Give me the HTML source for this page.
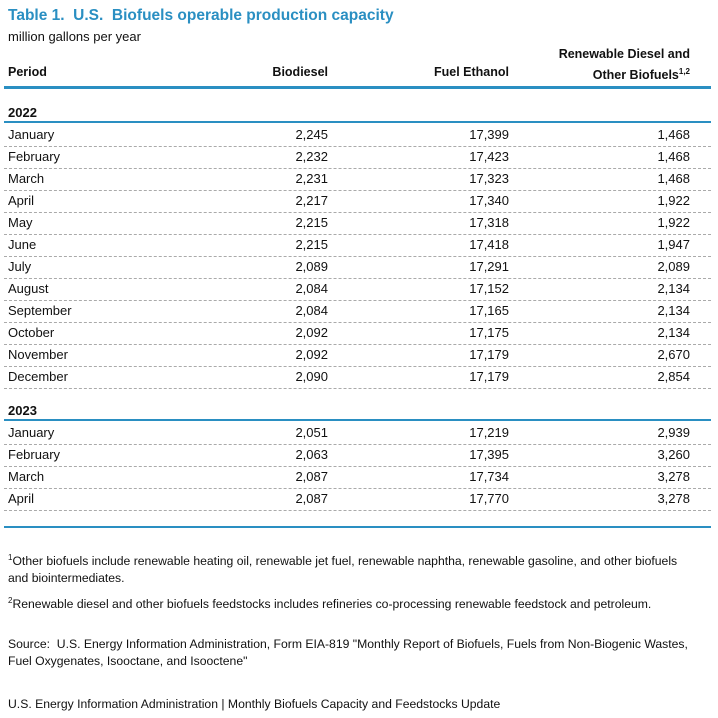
<!DOCTYPE html>
<html><head><meta charset="utf-8"><style>
body{margin:0;width:718px;height:718px;background:#fff;font-family:"Liberation Sans",sans-serif;color:#111;position:relative;overflow:hidden}
.a{position:absolute;white-space:nowrap;font-size:13px;line-height:15px}
.f{font-size:12.2px}
.r{text-align:right}
.b{font-weight:bold}
.thick{position:absolute;left:4px;width:707px;background:#2a8fc2}
.dash{position:absolute;left:4px;width:707px;border-top:1px dashed #aaa;height:0}
sup{font-size:8px;line-height:0}
</style></head><body>
<div class="a b" style="left:8px;top:7px;font-size:15.5px;line-height:18px;color:#2a8fc2">Table 1.&nbsp; U.S.&nbsp; Biofuels operable production capacity</div>
<div class="a" style="left:8px;top:29px">million gallons per year</div>
<div class="a b r" style="left:8px;top:65px;font-size:12.5px">Period</div>
<div class="a b r" style="right:390px;top:65px;font-size:12.5px">Biodiesel</div>
<div class="a b r" style="right:209px;top:65px;font-size:12.5px">Fuel Ethanol</div>
<div class="a b r" style="right:28px;top:44px;line-height:21px;font-size:12.5px">Renewable Diesel and<br>Other Biofuels<sup>1,2</sup></div>
<div class="thick" style="top:86px;height:3px"></div>
<div id="rows"></div>
<div class="thick" style="top:526px;height:2px"></div>
<div class="a f" style="left:8px;top:553px;line-height:17px"><sup>1</sup>Other biofuels include renewable heating oil, renewable jet fuel, renewable naphtha, renewable gasoline, and other biofuels<br>and biointermediates.</div>
<div class="a f" style="left:8px;top:597px"><sup>2</sup>Renewable diesel and other biofuels feedstocks includes refineries co-processing renewable feedstock and petroleum.</div>
<div class="a f" style="left:8px;top:636px;line-height:17px">Source:&nbsp; U.S. Energy Information Administration, Form EIA-819 "Monthly Report of Biofuels, Fuels from Non-Biogenic Wastes,<br>Fuel Oxygenates, Isooctane, and Isooctene"</div>
<div class="a f" style="left:8px;top:697px">U.S. Energy Information Administration | Monthly Biofuels Capacity and Feedstocks Update</div>
<script>
const months2022=["January","February","March","April","May","June","July","August","September","October","November","December"];
const biodiesel2022=["2,245","2,232","2,231","2,217","2,215","2,215","2,089","2,084","2,084","2,092","2,092","2,090"];
const ethanol2022=["17,399","17,423","17,323","17,340","17,318","17,418","17,291","17,152","17,165","17,175","17,179","17,179"];
const renew2022=["1,468","1,468","1,468","1,922","1,922","1,947","2,089","2,134","2,134","2,134","2,670","2,854"];
const months2023=["January","February","March","April"];
const biodiesel2023=["2,051","2,063","2,087","2,087"];
const ethanol2023=["17,219","17,395","17,734","17,770"];
const renew2023=["2,939","3,260","3,278","3,278"];
const host=document.getElementById('rows');
function add(html,style,cls){const d=document.createElement('div');d.className=cls;d.style.cssText=style;d.innerHTML=html;host.appendChild(d);return d;}
function block(year,top,m,b,e,r){
  const y=add(year,'left:8px;top:'+(top+1)+'px','a b');
  
  
  const t=add('','top:'+(top+17)+'px;height:2px','thick');
  
  
  for(let i=0;i<m.length;i++){
    const ty=top+23+i*22;
    const c1=add(m[i],'left:8px;top:'+ty+'px','a');
    
    
    const c2=add(b[i],'right:390px;top:'+ty+'px','a r');
    
    
    const c3=add(e[i],'right:209px;top:'+ty+'px','a r');
    
    
    const c4=add(r[i],'right:28px;top:'+ty+'px','a r');
    
    
    const d=add('','top:'+(ty+19)+'px','dash');
    
    
  }
}
block('2022',104,months2022,biodiesel2022,ethanol2022,renew2022);
block('2023',402,months2023,biodiesel2023,ethanol2023,renew2023);
</script>
</body></html>
